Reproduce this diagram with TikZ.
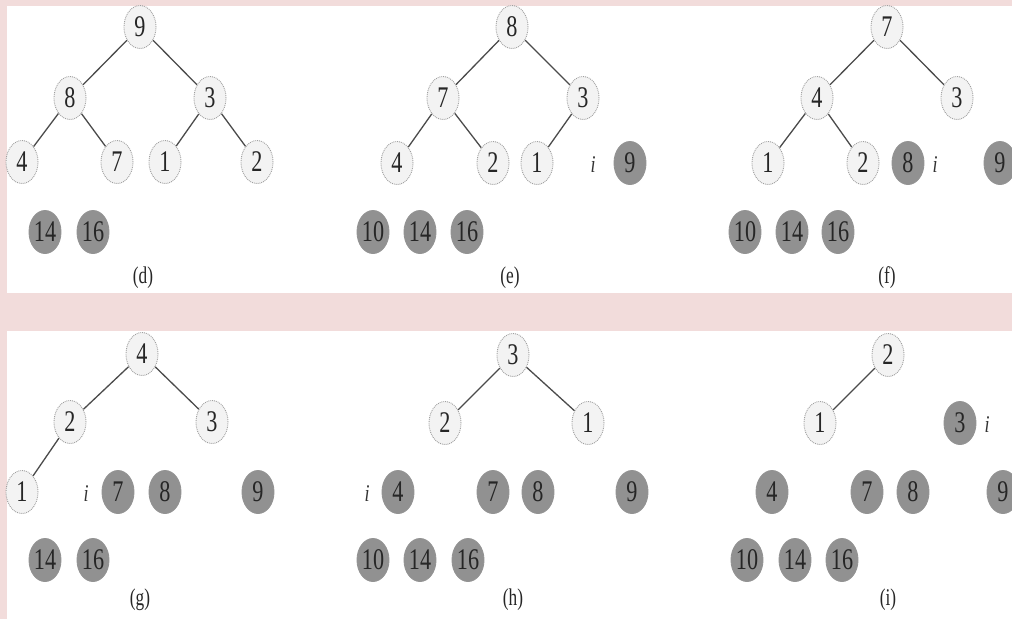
\documentclass[tikz,border=0pt]{standalone}
\usepackage{fontspec}
\setmainfont{Liberation Serif}
\usetikzlibrary{shapes.geometric}
\definecolor{bgpink}{RGB}{242,220,219}
\definecolor{darkfill}{RGB}{145,145,145}
\definecolor{lightfill}{RGB}{243,243,243}
\definecolor{linecol}{RGB}{75,75,75}
\newcommand{\dg}[1]{\scalebox{0.74}[1]{\fontsize{30}{30}\selectfont #1}}
\newcommand{\lb}[1]{\scalebox{0.72}[1]{\fontsize{24}{24}\selectfont #1}}
\newcommand{\ix}{\scalebox{0.75}[1]{\fontsize{24}{24}\selectfont\itshape i}}
\tikzset{
  lnode/.style={ellipse, minimum width=32pt, minimum height=43pt, inner sep=0pt,
    fill=lightfill, draw=gray!75, densely dotted, line width=0.9pt, text=black!85},
  dnode/.style={ellipse, minimum width=32pt, minimum height=43pt, inner sep=0pt,
    fill=darkfill, draw=gray!85, line width=0.9pt, text=black!85},
  conn/.style={draw=linecol, line width=1.3pt},
  lab/.style={inner sep=0pt, text=black!85},
  ilab/.style={inner sep=0pt, text=black!80}
}
\begin{document}
\begin{tikzpicture}[x=1pt,y=-1pt]
\useasboundingbox (0,0) rectangle (1012,619);
\clip (0,0) rectangle (1012,619);
\fill[bgpink] (0,0) rectangle (1012,619);
\fill[white] (7,6) rectangle (1012,293);
\fill[white] (7,331) rectangle (1012,619);

% (d)
\node[lnode] (d9) at (140,27) {\dg{9}};
\node[lnode] (d8) at (70,98) {\dg{8}};
\node[lnode] (d3) at (210,98) {\dg{3}};
\node[lnode] (d4) at (22,162) {\dg{4}};
\node[lnode] (d7) at (117,162) {\dg{7}};
\node[lnode] (d1) at (165,162) {\dg{1}};
\node[lnode] (d2) at (257,162) {\dg{2}};
\node[dnode] (d14) at (45,232) {\dg{14}};
\node[dnode] (d16) at (93,232) {\dg{16}};
\node[lab] (dl) at (143,278) {\lb{(d)}};
\draw[conn] (d9) -- (d8);
\draw[conn] (d9) -- (d3);
\draw[conn] (d8) -- (d4);
\draw[conn] (d8) -- (d7);
\draw[conn] (d3) -- (d1);
\draw[conn] (d3) -- (d2);

% (e)
\node[lnode] (e8) at (512,27) {\dg{8}};
\node[lnode] (e7) at (443,98) {\dg{7}};
\node[lnode] (e3) at (583,98) {\dg{3}};
\node[lnode] (e4) at (397,163) {\dg{4}};
\node[lnode] (e2) at (493,163) {\dg{2}};
\node[lnode] (e1) at (537,163) {\dg{1}};
\node[ilab] (ei) at (593,165) {\ix};
\node[dnode] (e9) at (630,163) {\dg{9}};
\node[dnode] (e10) at (373,232) {\dg{10}};
\node[dnode] (e14) at (420,232) {\dg{14}};
\node[dnode] (e16) at (467,232) {\dg{16}};
\node[lab] (el) at (510,278) {\lb{(e)}};
\draw[conn] (e8) -- (e7);
\draw[conn] (e8) -- (e3);
\draw[conn] (e7) -- (e4);
\draw[conn] (e7) -- (e2);
\draw[conn] (e3) -- (e1);

% (f)
\node[lnode] (f7) at (887,27) {\dg{7}};
\node[lnode] (f4) at (817,98) {\dg{4}};
\node[lnode] (f3) at (957,98) {\dg{3}};
\node[lnode] (f1) at (768,163) {\dg{1}};
\node[lnode] (f2) at (863,163) {\dg{2}};
\node[dnode] (f8) at (908,163) {\dg{8}};
\node[ilab] (fi) at (935,165) {\ix};
\node[dnode] (f9) at (1000,163) {\dg{9}};
\node[dnode] (f10) at (745,232) {\dg{10}};
\node[dnode] (f14) at (792,232) {\dg{14}};
\node[dnode] (f16) at (838,232) {\dg{16}};
\node[lab] (fl) at (887,278) {\lb{(f)}};
\draw[conn] (f7) -- (f4);
\draw[conn] (f7) -- (f3);
\draw[conn] (f4) -- (f1);
\draw[conn] (f4) -- (f2);

% (g)
\node[lnode] (g4) at (142,354) {\dg{4}};
\node[lnode] (g2) at (70,422) {\dg{2}};
\node[lnode] (g3) at (212,422) {\dg{3}};
\node[lnode] (g1) at (22,492) {\dg{1}};
\node[ilab] (gi) at (86,494) {\ix};
\node[dnode] (g7) at (118,492) {\dg{7}};
\node[dnode] (g8) at (165,492) {\dg{8}};
\node[dnode] (g9) at (258,492) {\dg{9}};
\node[dnode] (g14) at (45,560) {\dg{14}};
\node[dnode] (g16) at (93,560) {\dg{16}};
\node[lab] (gl) at (140,600) {\lb{(g)}};
\draw[conn] (g4) -- (g2);
\draw[conn] (g4) -- (g3);
\draw[conn] (g2) -- (g1);

% (h)
\node[lnode] (h3) at (513,355) {\dg{3}};
\node[lnode] (h2) at (445,423) {\dg{2}};
\node[lnode] (h1) at (588,423) {\dg{1}};
\node[ilab] (hi) at (367,494) {\ix};
\node[dnode] (h4) at (398,492) {\dg{4}};
\node[dnode] (h7) at (493,492) {\dg{7}};
\node[dnode] (h8) at (538,492) {\dg{8}};
\node[dnode] (h9) at (632,492) {\dg{9}};
\node[dnode] (h10) at (373,560) {\dg{10}};
\node[dnode] (h14) at (420,560) {\dg{14}};
\node[dnode] (h16) at (468,560) {\dg{16}};
\node[lab] (hl) at (513,600) {\lb{(h)}};
\draw[conn] (h3) -- (h2);
\draw[conn] (h3) -- (h1);

% (i)
\node[lnode] (i2) at (888,355) {\dg{2}};
\node[lnode] (i1) at (820,423) {\dg{1}};
\node[dnode] (i3) at (960,423) {\dg{3}};
\node[ilab] (ii) at (987,425) {\ix};
\node[dnode] (i4) at (772,492) {\dg{4}};
\node[dnode] (i7) at (867,492) {\dg{7}};
\node[dnode] (i8) at (913,492) {\dg{8}};
\node[dnode] (i9) at (1003,492) {\dg{9}};
\node[dnode] (i10) at (747,560) {\dg{10}};
\node[dnode] (i14) at (795,560) {\dg{14}};
\node[dnode] (i16) at (842,560) {\dg{16}};
\node[lab] (il) at (888,600) {\lb{(i)}};
\draw[conn] (i2) -- (i1);
\end{tikzpicture}
\end{document}
